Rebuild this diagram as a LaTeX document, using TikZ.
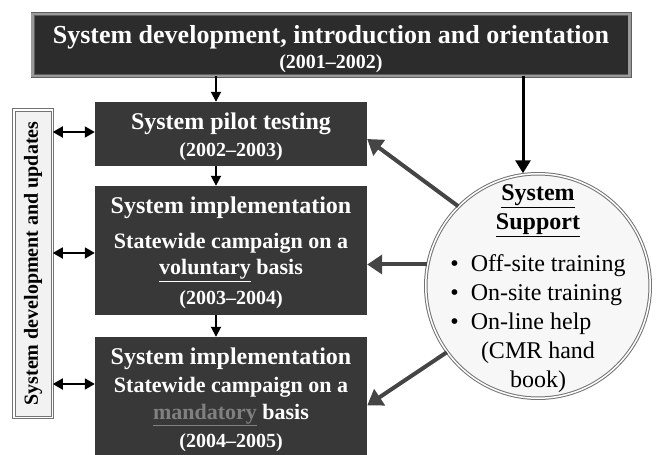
\documentclass[tikz,border=0pt]{standalone}
\usepackage{fontspec}
\setmainfont{Liberation Serif}
\usetikzlibrary{arrows.meta}

\definecolor{stagegray}{HTML}{383838}
\definecolor{titlegray}{HTML}{2C2C2C}
\definecolor{rimgray}{HTML}{5E5E5E}
\definecolor{bandgray}{HTML}{9A9A9A}
\definecolor{spokegray}{HTML}{454545}

\newcommand{\headfont}{\fontsize{24}{27}\selectfont}
\newcommand{\yearfont}{\fontsize{20}{27}\selectfont}

\begin{document}
\begin{tikzpicture}[x=1pt, y=-1pt,
    stage/.style={rectangle, fill=stagegray, text=white, align=center,
        font=\fontsize{22}{27}\selectfont\bfseries, minimum width=272pt, inner sep=0pt},
    flow/.style={line width=1.8pt, -{Triangle[length=10pt, width=10pt]}},
    link/.style={line width=1.8pt, {Triangle[length=10pt, width=11pt]}-{Triangle[length=10pt, width=11pt]}},
    spoke/.style={spokegray, line width=4pt, -{Triangle[length=15pt, width=19pt]}}]
    \useasboundingbox (0,0) rectangle (659,455);

    \node[rectangle, fill=titlegray, text=white, align=center, inner sep=0pt,
        font=\fontsize{26}{25}\selectfont\bfseries,
        draw=rimgray, double=bandgray, double distance=2.2pt, line width=0.9pt,
        minimum width=597pt, minimum height=62pt] (top) at (331,45)
        {\rule{0pt}{26pt}System development, introduction and orientation\\
         {\yearfont(2001--2002)}};

    \node[stage, minimum height=64pt] (pilot) at (231,134)
        {{\headfont\rule{0pt}{23pt}System pilot testing}\\{\yearfont(2002--2003)}};
    \node[stage, minimum height=129pt] (volun) at (231,250.5)
        {{\headfont\rule{0pt}{21.5pt}System implementation}\\[8pt]
         Statewide campaign on a\\[-1pt]
         \underline{voluntary} basis\\[3pt]
         {\yearfont(2003--2004)}};
    \node[stage, minimum height=125pt] (mand) at (231,399.5)
        {{\headfont System implementation}\\[1pt]
         Statewide campaign on a\\
         {\color{gray}\underline{mandatory}} basis\\[1pt]
         {\yearfont(2004--2005)}};

    \node[rectangle, fill=black!5, draw=black!55, double=white, double distance=1.5pt,
        line width=1pt, minimum width=38.5pt, minimum height=307.5pt, inner sep=0pt] (updates) at (33,263.5)
        {\rotatebox{90}{\fontsize{20}{24}\selectfont\bfseries System development and updates}};

    \node[circle, fill=black!3, draw=black!55, double=white, double distance=1.5pt,
        line width=1pt, minimum size=224.5pt, inner sep=0pt] (support) at (538,286) {};
    \node[inner sep=0pt, font=\fontsize{24}{29}\selectfont] (supportlist) at ([yshift=-2pt]support.center)
        {\begin{tabular}{@{}c@{\hspace{12pt}}l@{}}
         \multicolumn{2}{c}{\bfseries\underline{System}}\\
         \multicolumn{2}{c}{\bfseries\underline{Support}}\\[13pt]
         \textbullet & Off-site training\\
         \textbullet & On-site training\\
         \textbullet & On-line help\\
         \multicolumn{2}{c}{(CMR hand}\\
         \multicolumn{2}{c}{book)}
         \end{tabular}};

    % main sequence
    \coordinate (spine) at (216,0);
    \draw[flow] (top.south -| spine) -- (pilot.north -| spine);
    \draw[flow] (pilot.south -| spine) -- (volun.north -| spine);
    \draw[flow] (volun.south -| spine) -- (mand.north -| spine);

    % feed into the support circle
    \coordinate (feed) at (523,0);
    \draw[line width=3pt, -{Triangle[length=13pt, width=15pt]}] (top.south -| feed) -- (feed |- support.north);

    % updates on the left
    \draw[link] (updates.east |- 0,132) -- (pilot.west |- 0,132);
    \draw[link] (updates.east |- 0,253) -- (volun.west |- 0,253);
    \draw[link] (updates.east |- 0,384) -- (mand.west |- 0,384);

    % support reaching the stages
    \draw[spoke] (support.135) -- ([yshift=-5pt]pilot.east);
    \draw[spoke] (support.169) -- (support.169 -| volun.east);
    \draw[spoke] (support.216) -- ([yshift=-6pt]mand.east);
\end{tikzpicture}
\end{document}
